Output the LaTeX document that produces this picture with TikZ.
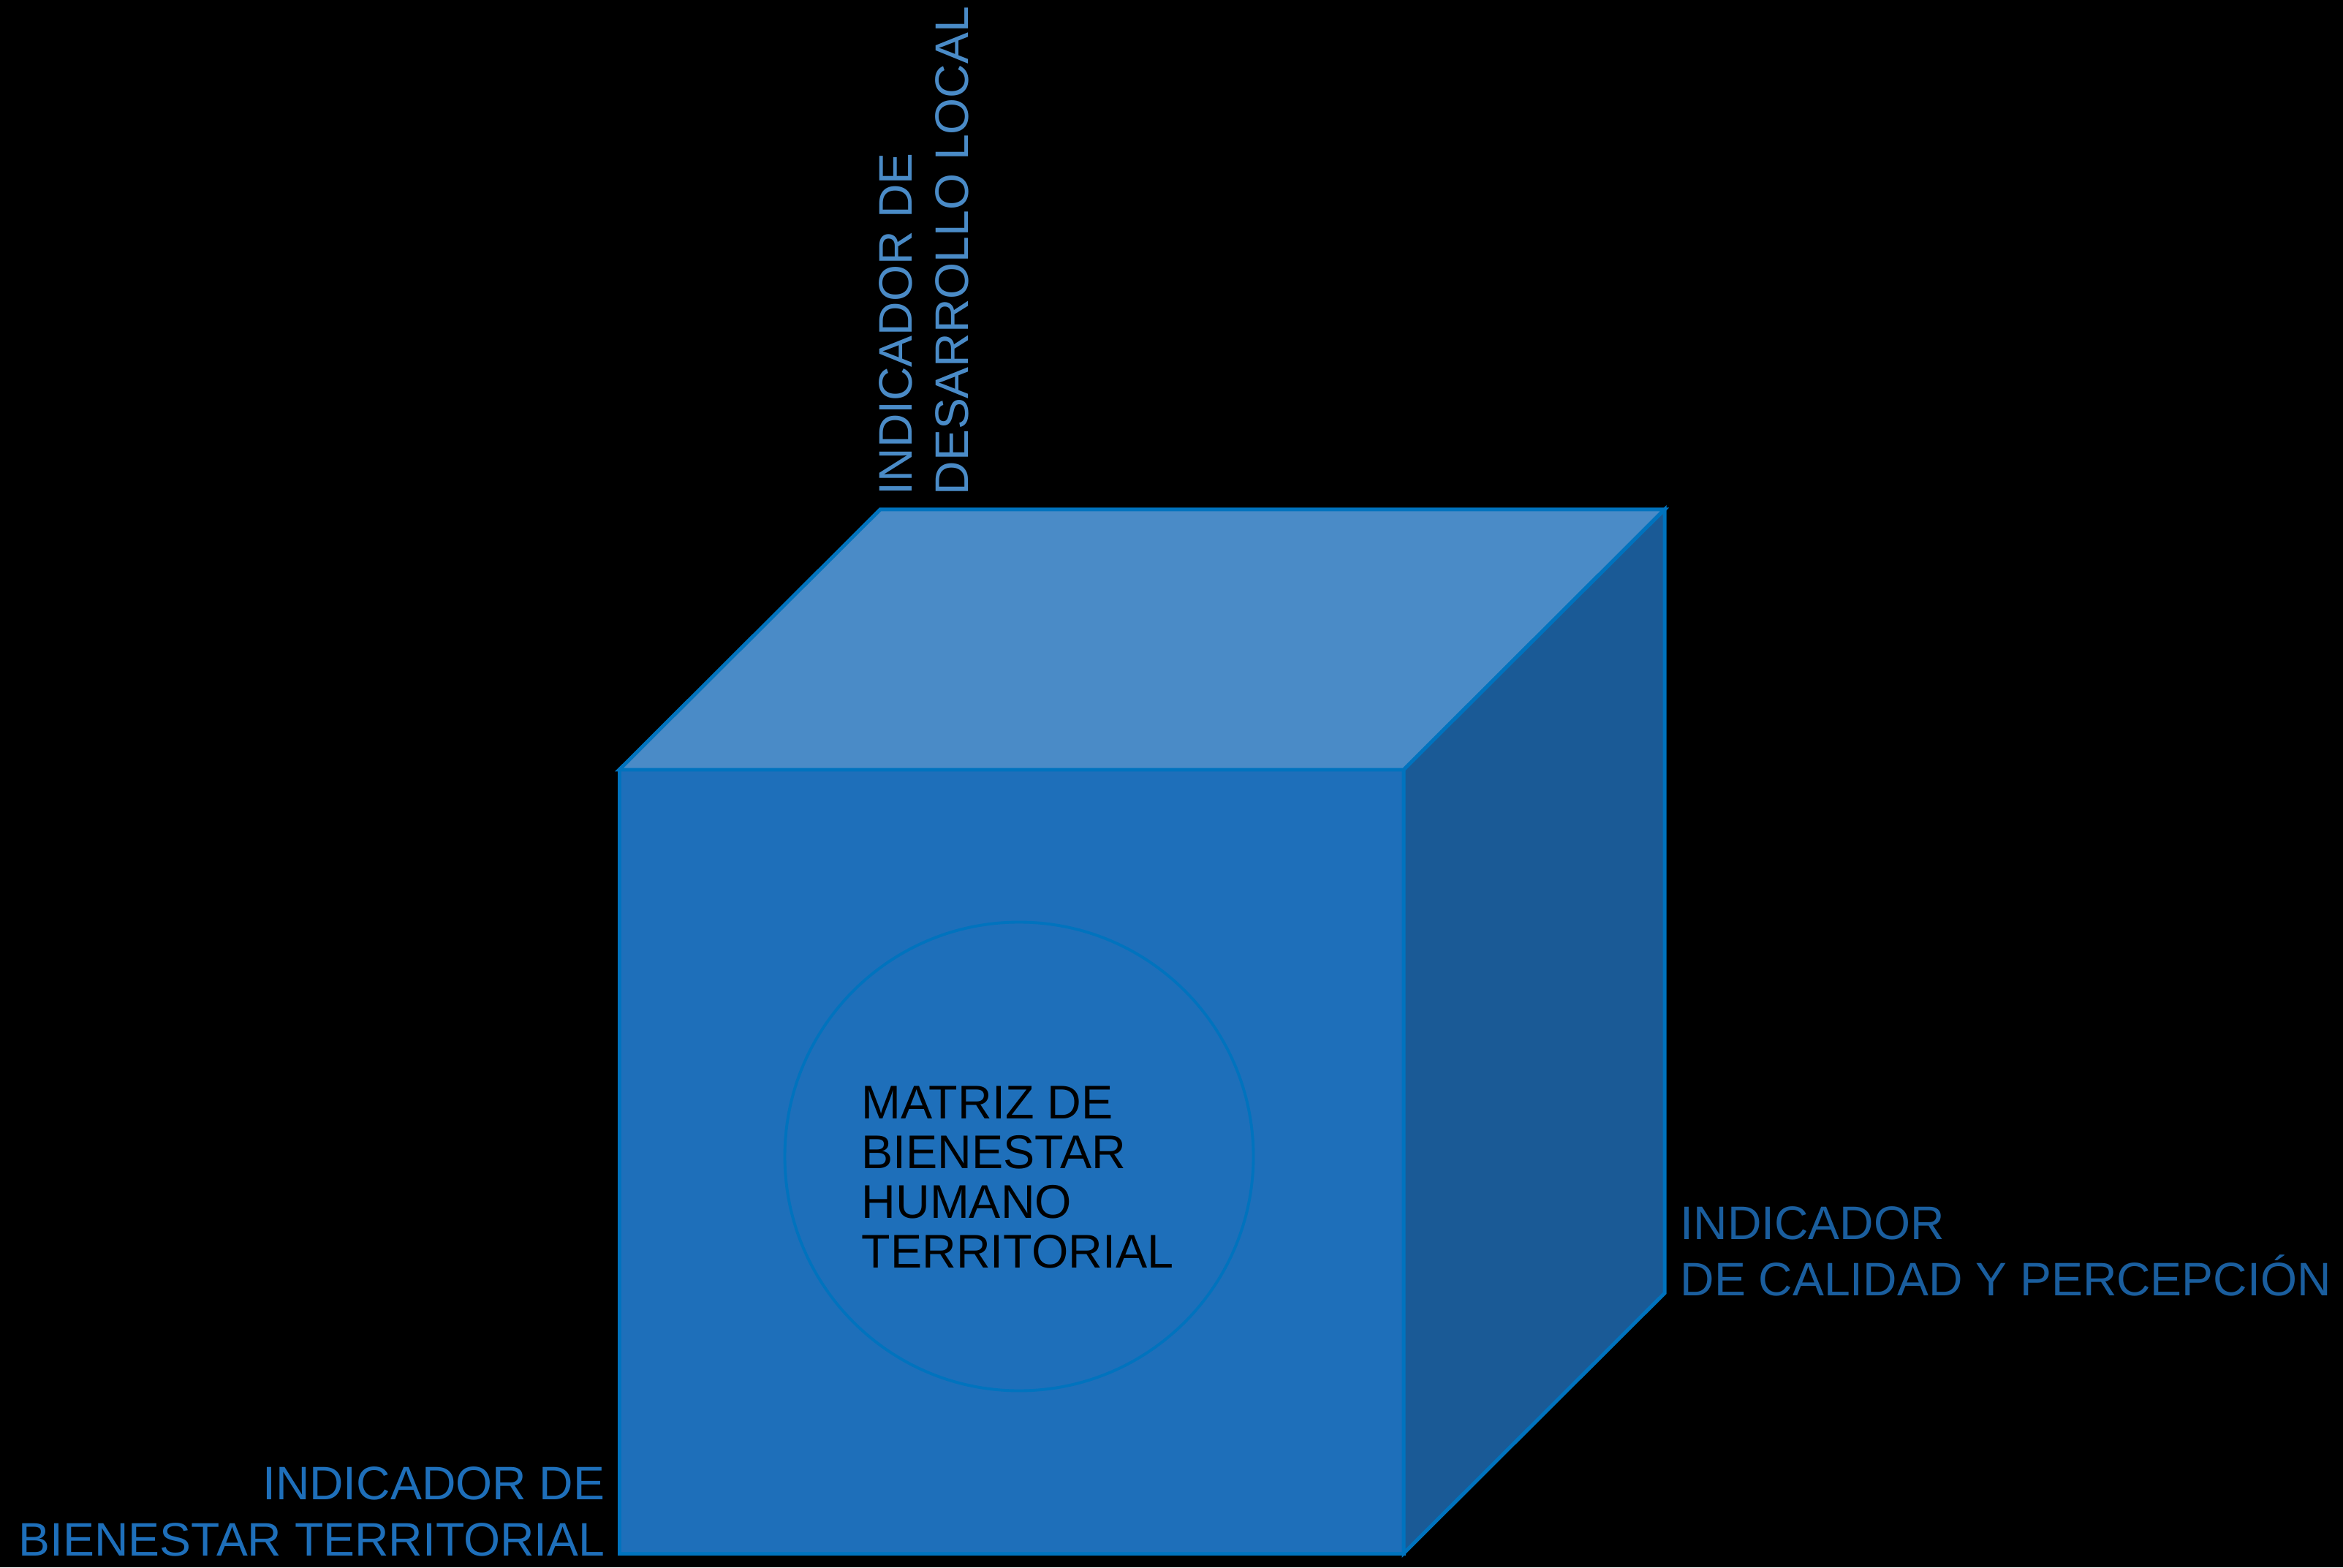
\documentclass[tikz,border=0pt]{standalone}
\usepackage{fontspec}
\setmainfont{Liberation Sans}
\usepackage{xcolor}
\usepackage{tikz}
\usetikzlibrary{calc}

\definecolor{edgeblue}{HTML}{0073BE}
\definecolor{frontblue}{HTML}{1E6FBA}
\definecolor{topblue}{HTML}{4A8BC7}
\definecolor{sideblue}{HTML}{1A5A96}
\definecolor{sidetext}{HTML}{1A5E9E}

\begin{document}
\begin{tikzpicture}[
        cubeface/.style={draw=edgeblue, line width=1.42pt, line join=miter},
        indicador/.style={inner sep=0pt, font=\fontsize{18.3}{21.8}\selectfont}
    ]
    % Background:
    % Black sheet, it also fixes the size of the picture
    \fill[black] (0,0) rectangle (32.05,21.44);

    % Corners of the cube:
    % The front square and the same square shifted to the back
    \coordinate (fsw) at (8.47,0.19);
    \coordinate (fse) at (19.20,0.19);
    \coordinate (fne) at (19.20,10.91);
    \coordinate (fnw) at (8.47,10.91);
    \coordinate (bnw) at ($(fnw)+(3.57,3.56)$);
    \coordinate (bne) at ($(fne)+(3.57,3.56)$);
    \coordinate (bse) at ($(fse)+(3.57,3.56)$);

    % Faces:
    \filldraw[cubeface, fill=frontblue] (fsw) -- (fse) -- (fne) -- (fnw) -- cycle;
    \filldraw[cubeface, fill=topblue]   (fnw) -- (fne) -- (bne) -- (bnw) -- cycle;
    \filldraw[cubeface, fill=sideblue]  (fse) -- (bse) -- (bne) -- (fne) -- cycle;

    % The circle in the middle of the front face
    \node[circle, draw=edgeblue, line width=1.1pt, minimum size=6.41cm] (circulo) at (13.94,5.62) {};
    \node[inner sep=0pt, anchor=north west, align=left, font=\fontsize{18.4}{19.4}\selectfont]
        (matriz) at (11.78,6.59) {MATRIZ DE\\BIENESTAR\\HUMANO\\TERRITORIAL};

    % Names of the three axes:
    \node[indicador, anchor=north west, align=left, rotate=90, text=topblue]
        (desarrollo) at (12.02,14.66) {INDICADOR DE\\DESARROLLO LOCAL};
    \node[indicador, anchor=north west, align=left, text=sidetext]
        (calidad) at (22.98,4.94) {INDICADOR\\DE CALIDAD Y PERCEPCIÓN};
    \node[indicador, anchor=north east, align=right, text=frontblue]
        (bienestar) at (8.28,1.38) {INDICADOR DE\\BIENESTAR TERRITORIAL};
\end{tikzpicture}
\end{document}
